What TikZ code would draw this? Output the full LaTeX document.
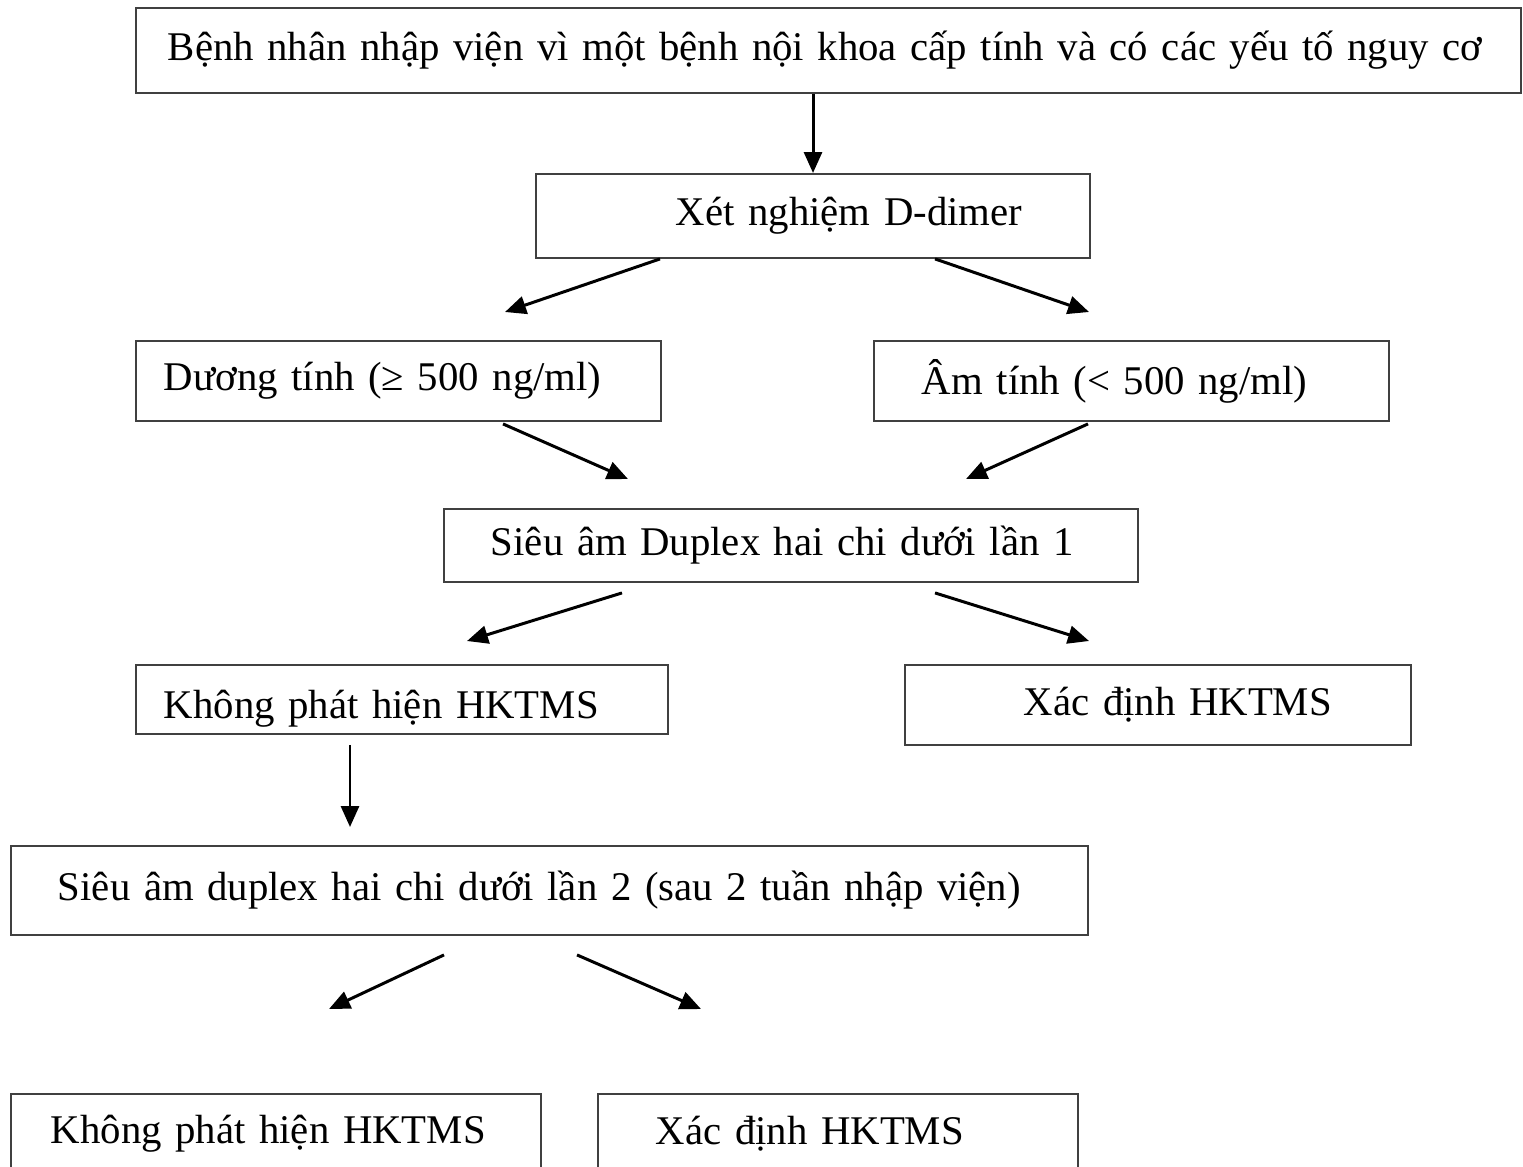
\documentclass[tikz,border=0pt]{standalone}
\usepackage{fontspec}
\setmainfont{Liberation Serif}
\usetikzlibrary{arrows.meta,calc}

\tikzset{
  box/.style={draw=black!75, line width=1.1pt, rectangle, inner sep=0pt,
    anchor=north west, align=left, font=\fontsize{23.2}{27}\selectfont},
  arr/.style={line width=1.7pt, -{Triangle[length=0.42cm,width=0.36cm]}},
}

\begin{document}
\begin{tikzpicture}[x=0.02cm,y=-0.02cm]
\useasboundingbox (0,0) rectangle (1523,1166);
% boxes, top to bottom
\node[box,minimum width=27.7cm,minimum height=1.7cm,text width=27.7cm] (admit) at (135,7)
  {\hspace*{0.64cm}Bệnh nhân nhập viện vì một bệnh nội khoa cấp tính và có các yếu tố nguy cơ};
\node[box,minimum width=11.08cm,minimum height=1.68cm,text width=11.08cm] (ddimer) at (535,173)
  {\hspace*{2.8cm}Xét nghiệm D-dimer};
\node[box,minimum width=10.5cm,minimum height=1.6cm,text width=10.5cm] (pos) at (135,340)
  {\hspace*{0.56cm}Dương tính (≥ 500 ng/ml)};
\node[box,minimum width=10.3cm,minimum height=1.6cm,text width=10.3cm] (neg) at (873,340)
  {\hspace*{0.96cm}Âm tính (< 500 ng/ml)};
\node[box,minimum width=13.88cm,minimum height=1.46cm,text width=13.88cm] (echoA) at (443,508)
  {\hspace*{0.94cm}Siêu âm Duplex hai chi dưới lần 1};
\node[box,minimum width=10.64cm,minimum height=1.38cm,text width=10.64cm] (noneA) at (135,664)
  {\hspace*{0.56cm}\raisebox{-0.18cm}[0.72em][0.22em]{Không phát hiện HKTMS}};
\node[box,minimum width=10.12cm,minimum height=1.6cm,text width=10.12cm] (foundA) at (904,664)
  {\hspace*{2.38cm}Xác định HKTMS};
\node[box,minimum width=21.54cm,minimum height=1.78cm,text width=21.54cm] (echoB) at (10,845)
  {\hspace*{0.94cm}Siêu âm duplex hai chi dưới lần 2 (sau 2 tuần nhập viện)};
\node[box,minimum width=10.6cm,minimum height=1.6cm,text width=10.6cm] (noneB) at (10,1093)
  {\hspace*{0.8cm}Không phát hiện HKTMS};
\node[box,minimum width=9.6cm,minimum height=1.6cm,text width=9.6cm] (foundB) at (597,1093)
  {\hspace*{1.16cm}Xác định HKTMS};

% arrow tips
\coordinate (tipPos) at (505,312);
\coordinate (tipNeg) at (1089,312);
\coordinate (tipEchoL) at (628,479);
\coordinate (tipEchoR) at (966,479);
\coordinate (tipNoneA) at (467,641);
\coordinate (tipFoundA) at (1089,641);
\coordinate (tipEchoB) at (350,827);
\coordinate (tipNoneB) at (329,1009);
\coordinate (tipFoundB) at (701,1009);

% arrows
\draw[arr] (admit.south -| 813,0) -- (ddimer.north -| 813,0);
\draw[arr] (ddimer.south -| 660,0) -- (tipPos);
\draw[arr] (ddimer.south -| 935,0) -- (tipNeg);
\draw[arr] ($(pos.south -| 503,0)+(0,2)$) -- (tipEchoL);
\draw[arr] ($(neg.south -| 1088,0)+(0,2)$) -- (tipEchoR);
\draw[arr] ($(echoA.south -| 622,0)+(0,10)$) -- (tipNoneA);
\draw[arr] ($(echoA.south -| 935,0)+(0,10)$) -- (tipFoundA);
\draw[arr] ($(noneA.south -| 350,0)+(0,10)$) -- (tipEchoB);
\draw[arr] ($(echoB.south -| 444,0)+(0,19)$) -- (tipNoneB);
\draw[arr] ($(echoB.south -| 577,0)+(0,19)$) -- (tipFoundB);
\end{tikzpicture}
\end{document}
